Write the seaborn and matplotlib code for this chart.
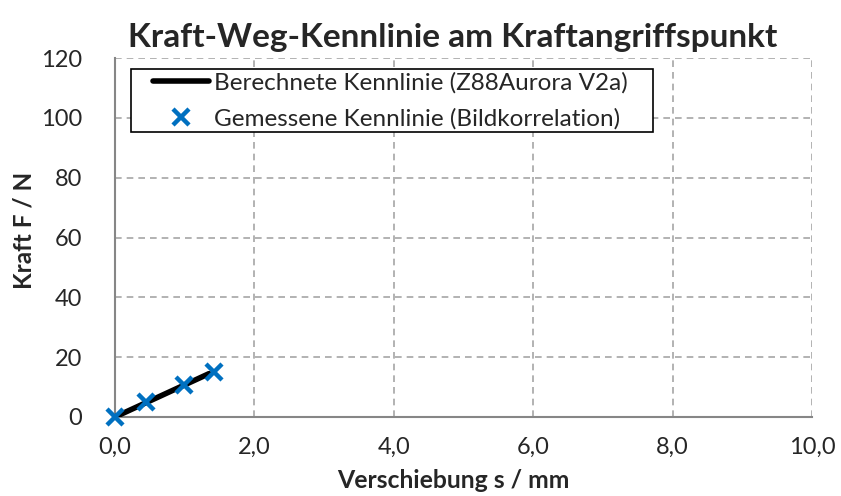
import matplotlib
matplotlib.use("Agg")
import matplotlib.pyplot as plt
import matplotlib.ticker as mticker
from matplotlib.path import Path
import numpy as np
import pandas as pd
import seaborn as sns

# Berechnete Kennlinie (Z88Aurora V2a)
s_calc = [0.0, 1.35]
f_calc = [0.0, 14.5]

# Gemessene Kennlinie (Bildkorrelation)
s_meas = [0.0, 0.45, 0.99, 1.42]
f_meas = [0.0, 5.0, 10.7, 15.0]

x_ticks = [0, 2, 4, 6, 8, 10]
y_ticks = [0, 20, 40, 60, 80, 100, 120]

sns.set_style("white")
plt.rcParams['font.family'] = ['Lato', 'DejaVu Sans']

calc = pd.DataFrame({"s": s_calc, "F": f_calc})
meas = pd.DataFrame({"s": s_meas, "F": f_meas})

fig = plt.figure(figsize=(8.41, 4.96), dpi=100)
ax = fig.add_axes([0.1367, 0.1593, 0.8288, 0.7237])

sns.lineplot(data=calc, x="s", y="F", ax=ax, color="black", linewidth=4,
             label="Berechnete Kennlinie (Z88Aurora V2a)", zorder=3)
ax.plot(meas["s"], meas["F"], linestyle="none", marker="x", markersize=11,
        markeredgewidth=3.2, color="#0070C0", zorder=4,
        label="Gemessene Kennlinie (Bildkorrelation)", clip_on=False)

ax.set_xlim(0, 10)
ax.set_ylim(0, 120)
ax.set_xticks(x_ticks)
ax.set_yticks(y_ticks)
ax.xaxis.set_major_formatter(mticker.FuncFormatter(lambda v, p: f"{v:.1f}".replace(".", ",")))
ax.yaxis.set_major_formatter(mticker.FuncFormatter(lambda v, p: f"{v:.0f}"))

ax.grid(True, linestyle=(0, (4, 3)), color="#A6A6A6", linewidth=1.2)
for sp in ["top", "right"]:
    ax.spines[sp].set_visible(False)
for sp in ["left", "bottom"]:
    ax.spines[sp].set_color("#868686")
    ax.spines[sp].set_linewidth(1.5)
    ax.spines[sp].set_zorder(2.5)
ax.tick_params(axis="both", direction="inout", length=9, width=1.2,
               color="#868686", labelsize=17)
ax.tick_params(axis="y", pad=19)
ax.tick_params(axis="x", pad=10)

ax.set_xlabel("Verschiebung s / mm", fontsize=17.8, fontweight="bold",
              labelpad=8, x=0.486)
ax.set_ylabel("Kraft F / N", fontsize=17.5, fontweight="bold", labelpad=4,
              y=0.52)
ax.set_title("Kraft-Weg-Kennlinie am Kraftangriffspunkt", fontsize=24,
             fontweight="bold", pad=8, x=0.485)


# Excel-style legend frame: extra room left of the handles and right of the text
def excel_box(x0, y0, width, height, mutation_size):
    left = 20 * fig.dpi / 100
    right = 22 * fig.dpi / 100
    xa, xb = x0 - left, x0 + width + right
    return Path([(xa, y0), (xb, y0), (xb, y0 + height), (xa, y0 + height), (xa, y0)],
                [Path.MOVETO, Path.LINETO, Path.LINETO, Path.LINETO, Path.CLOSEPOLY])


leg = ax.legend(loc="upper left", bbox_to_anchor=(0.051, 0.969), fontsize=17.5,
                frameon=True, fancybox=False, handlelength=2.3,
                borderpad=0.12, labelspacing=0.58, handletextpad=0.2,
                borderaxespad=0)
leg.get_frame().set_boxstyle(excel_box)
leg.get_frame().set_edgecolor("black")
leg.get_frame().set_linewidth(1.2)
leg.get_frame().set_alpha(1)

fig.savefig("out.png", dpi=100)
